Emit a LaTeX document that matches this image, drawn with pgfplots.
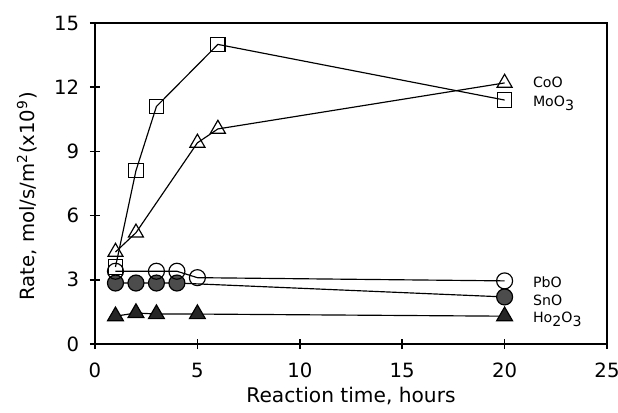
\documentclass[border=0pt]{standalone}
\usepackage{fontspec}
\setmainfont{DejaVu Sans}
\usepackage{pgfplots}
\pgfplotsset{compat=1.18}
\newcommand{\sub}[1]{\raisebox{-0.5ex}{#1}}
\begin{document}
\begin{tikzpicture}
\begin{axis}[
  name=ax,
  scale only axis,
  width=307.2pt, height=192.6pt,
  xmin=0, xmax=25, ymin=0, ymax=15,
  xtick={0,5,10,15,20,25}, ytick={0,3,6,9,12,15},
  tick align=center,
  xtick pos=bottom, ytick pos=left,
  major tick length=6pt,
  axis line style={line width=0.9pt},
  every tick/.style={line width=0.9pt, black},
  /pgf/number format/assume math mode=true,
  tick label style={font=\fontsize{11.8}{13}\selectfont},
  x tick label style={yshift=-5pt},
  y tick label style={xshift=-3pt},
  xlabel={Reaction time, hours},
  ylabel={Rate, mol/s/m\textsuperscript{2}(x10\textsuperscript{9})},
  every axis x label/.style={at={(axis description cs:0.5,0)}, yshift=-31pt, anchor=center, font=\fontsize{12.1}{14}\selectfont},
  every axis y label/.style={at={(axis description cs:0,0.46)}, xshift=-40.8pt, rotate=90, anchor=center, font=\fontsize{11.8}{13}\selectfont},
  every axis plot/.append style={line width=0.7pt, black},
  clip=false,
]
% MoO3
\addplot[mark=square, mark size=4.3pt, mark options={fill=white, line width=0.7pt}]
  coordinates {(1,3.6) (2,8.1) (3,11.1) (6,14.0) (20,11.4)};
% CoO
\addplot[mark=triangle, mark size=5.2pt, mark options={fill=white, line width=0.7pt}]
  coordinates {(1,4.3) (2,5.2) (5,9.4) (6,10.05) (20,12.2)};
% Ho2O3
\addplot[mark=triangle*, mark size=5.5pt, mark options={fill=black!85, line width=0.7pt}]
  coordinates {(1,1.3) (2,1.45) (3,1.4) (5,1.4) (20,1.3)};
% SnO
\addplot[mark=*, mark size=4.8pt, mark options={fill=black!70, line width=0.7pt}]
  coordinates {(1,2.85) (2,2.85) (3,2.85) (4,2.85) (20,2.2)};
% PbO
\addplot[mark=o, mark size=4.8pt, mark options={fill=white, line width=0.7pt}]
  coordinates {(1,3.4) (3,3.4) (4,3.4) (5,3.1) (20,2.95)};
\begin{scope}[font=\fontsize{8.5}{10}\selectfont]
\node[anchor=west] at (axis cs:21.1,12.25) {CoO};
\node[anchor=west] at (axis cs:21.1,11.25) {MoO\sub{3}};
\node[anchor=west] at (axis cs:21.1,2.9) {PbO};
\node[anchor=west] at (axis cs:21.1,2.05) {SnO};
\node[anchor=west] at (axis cs:21.1,1.15) {Ho\sub{2}O\sub{3}};
\end{scope}
\end{axis}
\pgfresetboundingbox
\path ([shift={(-57pt,-40.8pt)}]ax.south west) rectangle ([shift={(6.6pt,13.8pt)}]ax.north east);
\end{tikzpicture}
\end{document}
